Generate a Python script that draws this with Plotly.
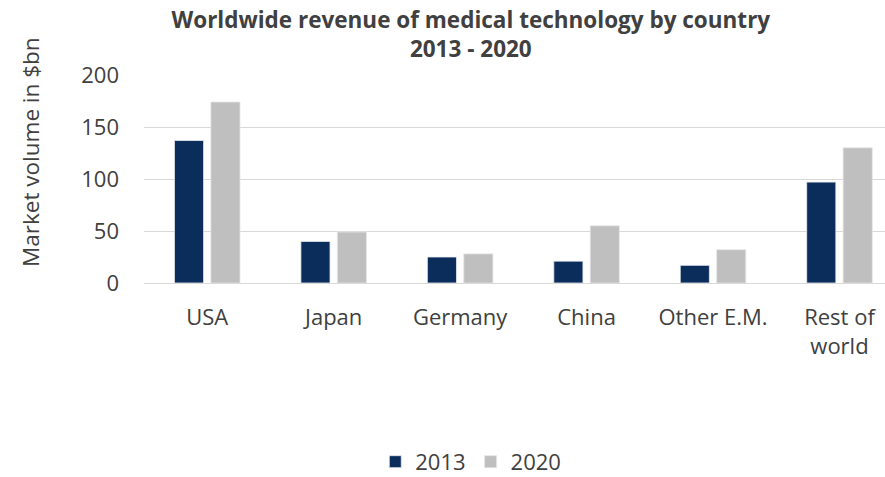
import plotly.graph_objects as go

# Market volume (USD bn) by country
countries = ["USA", "Japan", "Germany", "China", "Other E.M.", "Rest of<br>world"]
revenue_2013 = [137, 40, 25, 21, 17, 97]
revenue_2020 = [174, 49, 28, 55, 32, 130]
y_ticks = [0, 50, 100, 150, 200]

FONT = "Open Sans"
TEXT = "#404040"

fig = go.Figure()
fig.add_trace(go.Bar(
    name="2013", x=countries, y=revenue_2013,
    marker=dict(color="#0B2D5B", line=dict(color="#E8ECF2", width=0.8)),
))
fig.add_trace(go.Bar(
    name="2020", x=countries, y=revenue_2020,
    marker=dict(color="#BFBFBF", line=dict(color="#E6E6E6", width=0.8)),
))

fig.update_layout(
    width=885, height=477,
    margin=dict(l=144, r=0, t=75, b=194, autoexpand=False),
    paper_bgcolor="white", plot_bgcolor="white",
    barmode="group", bargap=0.424, bargroupgap=0.2,
    font=dict(family=FONT, color=TEXT),
    title=dict(
        text="<b>Worldwide revenue of medical technology by country<br>2013 - 2020</b>",
        x=0.532, xref="container", xanchor="center",
        y=0.941, yref="container", yanchor="top",
        font=dict(family=FONT, size=22.5, color="#404040"),
    ),
    legend=dict(
        orientation="h", x=0.441, xanchor="center", y=-0.86, yanchor="middle",
        font=dict(size=22, color=TEXT), traceorder="normal",
    ),
    xaxis=dict(
        range=[-0.5, 5.36], showgrid=False, showline=False, ticks="",
        tickfont=dict(size=22, color=TEXT),
        ticklabelstandoff=19,
    ),
    yaxis=dict(
        range=[0, 200], tickvals=y_ticks, showline=False, ticks="",
        gridcolor="#D9D9D9", gridwidth=1.3, zeroline=True,
        zerolinecolor="#D9D9D9", zerolinewidth=1.3,
        tickfont=dict(size=22, color=TEXT),
        ticklabelstandoff=24,
    ),
    annotations=[dict(
        text="Market volume in $bn", textangle=-90,
        xref="paper", yref="paper", x=-0.1525, y=0.63,
        xanchor="center", yanchor="middle", showarrow=False,
        font=dict(family=FONT, size=22.5, color=TEXT),
    )],
)

fig.write_html("out.html")
